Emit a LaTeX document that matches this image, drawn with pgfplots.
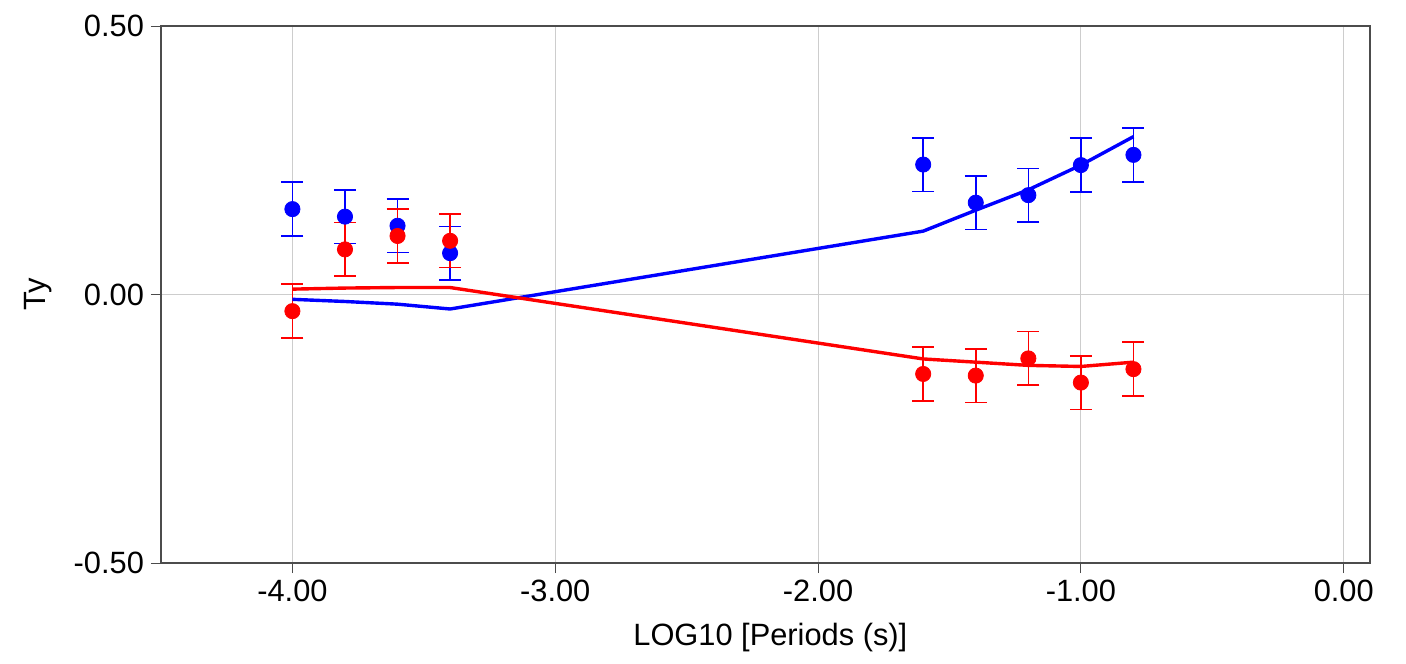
\documentclass[border=0pt]{standalone}
\usepackage{pgfplots}
\pgfplotsset{compat=1.18}
\usepackage{pgfplotstable}
\usepackage{fontspec}
\setmainfont{Liberation Sans}
\definecolor{gridgray}{RGB}{205,205,205}
\definecolor{myblue}{RGB}{0,0,255}
\definecolor{myred}{RGB}{255,0,0}
\pgfplotstableread{
x y e
-4.0 0.159 0.05
-3.8 0.145 0.05
-3.6 0.128 0.05
-3.4 0.077 0.05
-1.6 0.242 0.05
-1.4 0.171 0.05
-1.2 0.185 0.05
-1.0 0.241 0.05
-0.8 0.260 0.05
}\bluepts
\pgfplotstableread{
x y e
-4.0 -0.031 0.05
-3.8 0.084 0.05
-3.6 0.109 0.05
-3.4 0.100 0.05
-1.6 -0.148 0.05
-1.4 -0.151 0.05
-1.2 -0.119 0.05
-1.0 -0.164 0.05
-0.8 -0.139 0.05
}\redpts
\pgfplotstableread{
x y
-4.0 -0.009
-3.8 -0.013
-3.6 -0.018
-3.4 -0.027
-1.6 0.118
-1.4 0.157
-1.2 0.195
-1.0 0.241
-0.8 0.294
}\blueline
\pgfplotstableread{
x y
-4.0 0.010
-3.8 0.012
-3.6 0.013
-3.4 0.013
-1.6 -0.120
-1.4 -0.126
-1.2 -0.132
-1.0 -0.134
-0.8 -0.126
}\redline
\begin{document}
\begin{tikzpicture}
\begin{axis}[
  scale only axis,
  width=604.5pt, height=268.5pt,
  xmin=-4.5, xmax=0.1,
  ymin=-0.5, ymax=0.5,
  xtick={-4,-3,-2,-1,0},
  ytick={-0.5,0,0.5},
  grid=major,
  major grid style={gridgray, line width=0.5pt},
  tick align=outside,
  tick pos=left,
  major tick length=5pt,
  tick style={black!70, line width=0.5pt},
  axis line style={black!70, line width=0.6pt},
  font=\fontsize{15.4}{18}\selectfont,
  /pgf/number format/assume math mode=true,
  /pgf/number format/.cd, fixed, fixed zerofill, precision=2,
  /pgfplots/.cd,
  xlabel={LOG10 [Periods (s)]},
  ylabel={Ty},
  xlabel style={at={(axis description cs:0.504,-0.138)}, anchor=center},
  ylabel style={at={(axis description cs:-0.102,0.5)}, anchor=center},
  clip=false,
]
\addplot[color=myblue, only marks, mark=*, mark size=3.8pt,
  mark options={draw=myblue, fill=myblue},
  error bars/.cd, y dir=both, y explicit,
  error bar style={color=myblue, line width=0.8pt},
  error mark options={color=myblue, line width=0.8pt, mark size=5.5pt, rotate=90}]
  table[x=x, y=y, y error=e]{\bluepts};
\addplot[color=myred, only marks, mark=*, mark size=3.8pt,
  mark options={draw=myred, fill=myred},
  error bars/.cd, y dir=both, y explicit,
  error bar style={color=myred, line width=0.8pt},
  error mark options={color=myred, line width=0.8pt, mark size=5.5pt, rotate=90}]
  table[x=x, y=y, y error=e]{\redpts};
\addplot[color=myblue, line width=1.7pt, no marks] table[x=x, y=y]{\blueline};
\addplot[color=myred, line width=1.7pt, no marks] table[x=x, y=y]{\redline};
\end{axis}
\useasboundingbox (-80.5pt,-50pt) rectangle (622.5pt,281.5pt);
\end{tikzpicture}
\end{document}
